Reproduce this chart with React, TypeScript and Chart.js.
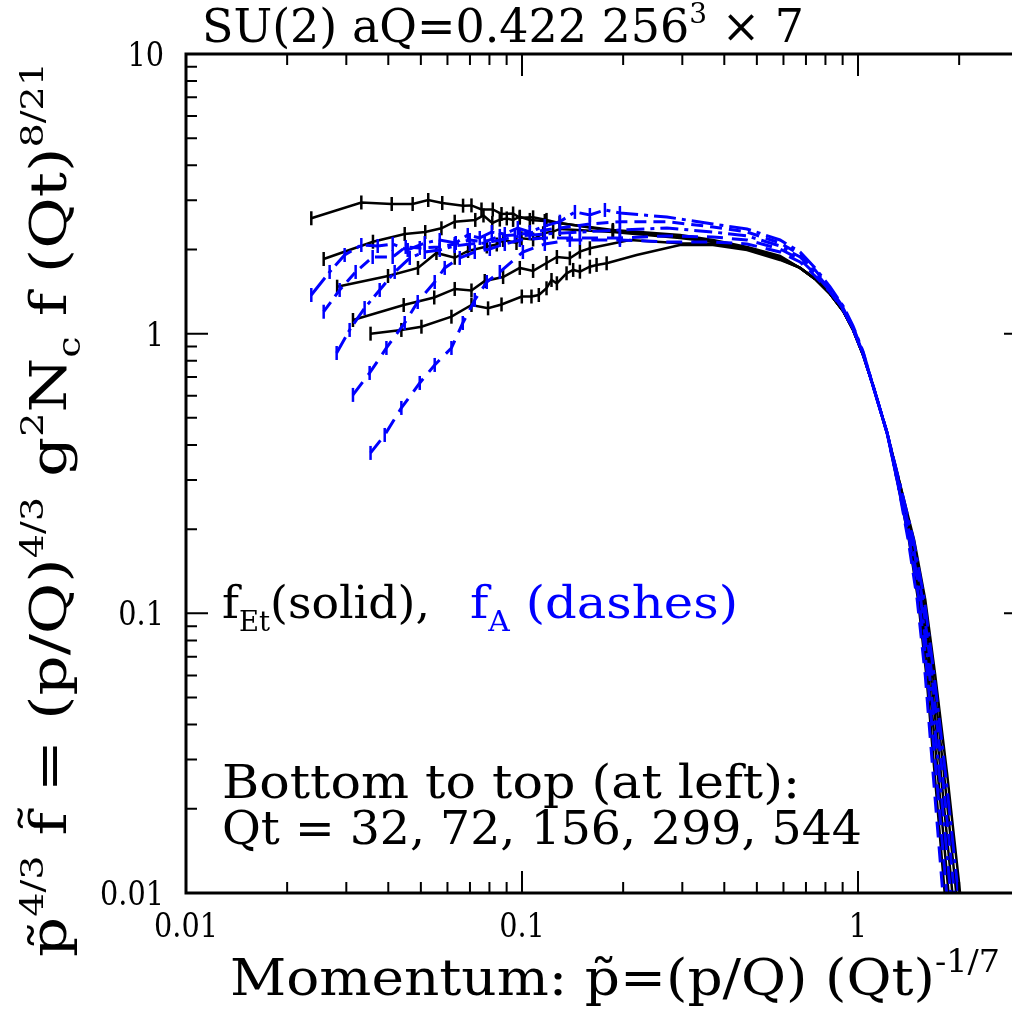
import React, { useEffect, useRef } from "react";
import { Chart, registerables } from "chart.js";
Chart.register(...registerables);

// ---------- data ----------
// f_A (blue, dashed) series, Qt = 544, 299, 156, 72, 32
const xA544 = [0.0236, 0.02676, 0.02966, 0.03325, 0.0372, 0.04122, 0.04569, 0.05135, 0.0569, 0.0635, 0.06896, 0.07487, 0.08128, 0.08887, 0.09716, 0.1055, 0.1169, 0.1296, 0.1437, 0.1592, 0.1765, 0.1956, 0.27, 0.37, 0.4674, 0.586, 0.6723, 0.7451, 0.8259, 0.9029, 0.967, 1.0356, 1.109, 1.221, 1.335, 1.463, 1.575, 1.684, 1.823, 1.968, 2.042];
const yA544 = [1.375, 1.662, 1.911, 2.075, 2.058, 2.093, 1.992, 2.11, 2.163, 2.11, 2.254, 2.199, 2.309, 2.272, 2.387, 2.309, 2.427, 2.514, 2.724, 2.657, 2.769, 2.701, 2.613, 2.467, 2.368, 2.163, 1.959, 1.718, 1.469, 1.256, 1.065, 0.862, 0.65, 0.441, 0.288, 0.183, 0.112, 0.0602, 0.02643, 0.01114, 0.00708];

const xA299 = [0.02569, 0.02866, 0.03198, 0.03594, 0.04122, 0.04507, 0.04962, 0.0569, 0.06306, 0.06991, 0.07748, 0.08589, 0.09519, 0.1055, 0.1169, 0.1296, 0.1592, 0.1956, 0.27, 0.37, 0.4674, 0.586, 0.6723, 0.7451, 0.8259, 0.9029, 0.967, 1.0356, 1.109, 1.221, 1.326, 1.449, 1.556, 1.659, 1.784, 1.918, 1.987];
const yA299 = [1.198, 1.433, 1.662, 1.88, 1.88, 2.042, 2.025, 2.042, 2.093, 2.163, 2.128, 2.236, 2.254, 2.291, 2.349, 2.387, 2.467, 2.514, 2.514, 2.407, 2.309, 2.11, 1.919, 1.69, 1.451, 1.245, 1.056, 0.856, 0.65, 0.441, 0.288, 0.183, 0.112, 0.0602, 0.02643, 0.01114, 0.00708];

const xA156 = [0.02808, 0.03069, 0.03401, 0.03771, 0.04179, 0.04633, 0.05135, 0.0569, 0.06306, 0.06991, 0.07748, 0.08589, 0.09849, 0.1169, 0.1487, 0.1956, 0.27, 0.37, 0.4674, 0.586, 0.6723, 0.7451, 0.8259, 0.9029, 0.967, 1.0356, 1.109, 1.221, 1.326, 1.436, 1.537, 1.633, 1.747, 1.870, 1.933];
const yA156 = [0.853, 1.031, 1.235, 1.433, 1.662, 1.865, 1.959, 1.992, 2.058, 2.093, 2.11, 2.163, 2.236, 2.272, 2.309, 2.349, 2.387, 2.309, 2.236, 2.058, 1.88, 1.662, 1.433, 1.235, 1.048, 0.85, 0.65, 0.441, 0.288, 0.183, 0.112, 0.0602, 0.02643, 0.01114, 0.00708];

const xA72 = [0.0314, 0.0352, 0.03949, 0.04476, 0.04893, 0.05498, 0.05888, 0.06528, 0.07235, 0.0802, 0.08887, 0.09849, 0.1169, 0.1487, 0.1956, 0.27, 0.37, 0.4674, 0.586, 0.6723, 0.7451, 0.8259, 0.9029, 0.967, 1.0356, 1.109, 1.221, 1.316, 1.422, 1.519, 1.609, 1.710, 1.821, 1.881];
const yA72 = [0.604, 0.7236, 0.8889, 1.092, 1.298, 1.53, 1.718, 1.865, 1.959, 2.008, 2.093, 2.163, 2.199, 2.199, 2.199, 2.236, 2.217, 2.163, 2.008, 1.842, 1.635, 1.421, 1.224, 1.04, 0.845, 0.65, 0.441, 0.288, 0.183, 0.112, 0.0602, 0.02643, 0.01114, 0.00708];

const xA32 = [0.03542, 0.03903, 0.04375, 0.04962, 0.05498, 0.06166, 0.06664, 0.07235, 0.07855, 0.08589, 0.1006, 0.1169, 0.1388, 0.1956, 0.27, 0.37, 0.4674, 0.586, 0.6723, 0.7451, 0.8259, 0.9029, 0.967, 1.0356, 1.109, 1.221, 1.316, 1.410, 1.500, 1.585, 1.674, 1.775, 1.830];
const yA32 = [0.3746, 0.4343, 0.5425, 0.6664, 0.7729, 0.8889, 1.092, 1.32, 1.53, 1.662, 1.959, 2.093, 2.163, 2.163, 2.128, 2.128, 2.093, 1.959, 1.804, 1.608, 1.409, 1.215, 1.035, 0.841, 0.65, 0.441, 0.288, 0.183, 0.112, 0.0602, 0.02643, 0.01114, 0.00708];

// f_Et (black, solid) series
const xS544 = [0.0236, 0.03325, 0.04095, 0.04727, 0.05259, 0.05789, 0.06677, 0.07073, 0.07576, 0.08185, 0.0869, 0.09408, 0.09849, 0.1079, 0.1183, 0.1296, 0.1864, 0.2952, 0.37, 0.4674, 0.586, 0.6723, 0.7451, 0.8259, 0.9029, 0.967, 1.0356, 1.109, 1.221, 1.335, 1.469, 1.585, 1.697, 1.843, 1.994, 2.071];
const yS544 = [2.586, 2.945, 2.909, 2.909, 3.006, 2.933, 2.869, 2.875, 2.78, 2.78, 2.679, 2.69, 2.598, 2.606, 2.551, 2.482, 2.349, 2.254, 2.163, 2.042, 1.896, 1.718, 1.569, 1.387, 1.206, 1.031, 0.839, 0.65, 0.441, 0.288, 0.183, 0.112, 0.0602, 0.02643, 0.01114, 0.00708];

const xS299 = [0.02569, 0.03601, 0.04476, 0.05152, 0.05757, 0.06306, 0.0726, 0.0768, 0.08157, 0.08589, 0.09009, 0.09408, 0.09849, 0.1055, 0.1169, 0.1296, 0.1864, 0.2952, 0.37, 0.4674, 0.586, 0.6723, 0.7451, 0.8259, 0.9029, 0.967, 1.0356, 1.109, 1.221, 1.335, 1.456, 1.565, 1.672, 1.804, 1.943, 2.015];
const yS299 = [1.849, 2.132, 2.272, 2.309, 2.381, 2.514, 2.551, 2.646, 2.488, 2.557, 2.582, 2.551, 2.619, 2.551, 2.528, 2.488, 2.329, 2.217, 2.145, 2.03, 1.88, 1.718, 1.569, 1.387, 1.206, 1.031, 0.839, 0.65, 0.441, 0.288, 0.183, 0.112, 0.0602, 0.02643, 0.01114, 0.00708];

const xS156 = [0.02817, 0.03992, 0.04903, 0.05563, 0.06306, 0.0691, 0.07855, 0.08413, 0.08785, 0.09629, 0.09966, 0.1079, 0.1156, 0.1238, 0.1296, 0.1864, 0.2952, 0.37, 0.4674, 0.586, 0.6723, 0.7451, 0.8259, 0.9029, 0.967, 1.0356, 1.109, 1.221, 1.326, 1.442, 1.546, 1.647, 1.766, 1.893, 1.960];
const yS156 = [1.472, 1.608, 1.718, 1.943, 1.868, 1.976, 2.05, 2.084, 2.163, 2.11, 2.193, 2.172, 2.286, 2.316, 2.368, 2.309, 2.199, 2.128, 2.025, 1.865, 1.718, 1.569, 1.387, 1.206, 1.031, 0.839, 0.65, 0.441, 0.288, 0.183, 0.112, 0.0602, 0.02643, 0.01114, 0.00708];

const xS72 = [0.0314, 0.04445, 0.0548, 0.06306, 0.07073, 0.07748, 0.08785, 0.09849, 0.1079, 0.1183, 0.127, 0.1388, 0.1487, 0.1592, 0.2095, 0.2952, 0.37, 0.4674, 0.586, 0.6723, 0.7451, 0.8259, 0.9029, 0.967, 1.0356, 1.109, 1.221, 1.316, 1.429, 1.528, 1.621, 1.729, 1.845, 1.907];
const yS72 = [1.119, 1.266, 1.347, 1.445, 1.427, 1.543, 1.594, 1.718, 1.676, 1.79, 1.88, 1.86, 1.964, 2.02, 2.163, 2.104, 2.093, 2.008, 1.849, 1.718, 1.569, 1.387, 1.206, 1.031, 0.839, 0.65, 0.441, 0.288, 0.183, 0.112, 0.0602, 0.02643, 0.01114, 0.00708];

const xS32 = [0.03542, 0.04375, 0.0502, 0.06166, 0.07073, 0.07925, 0.0869, 0.09986, 0.1067, 0.1122, 0.1183, 0.1224, 0.127, 0.1357, 0.142, 0.1487, 0.1592, 0.1667, 0.1786, 0.2194, 0.2952, 0.37, 0.4674, 0.586, 0.6723, 0.7451, 0.8259, 0.9029, 0.967, 1.0356, 1.109, 1.221, 1.316, 1.417, 1.509, 1.597, 1.692, 1.798, 1.855];
const yS32 = [1.0, 1.031, 1.059, 1.15, 1.266, 1.232, 1.272, 1.358, 1.358, 1.375, 1.453, 1.556, 1.514, 1.644, 1.69, 1.666, 1.736, 1.761, 1.785, 1.911, 2.075, 2.075, 1.992, 1.835, 1.718, 1.569, 1.387, 1.206, 1.031, 0.839, 0.65, 0.441, 0.288, 0.183, 0.112, 0.0602, 0.02643, 0.01114, 0.00708];

// axis ticks
const xTickValues = [0.01, 0.1, 1];
const xTickLabels = ["0.01", "0.1", "1"];
const yTickValues = [0.01, 0.1, 1, 10];
const yTickLabels = ["0.01", "0.1", "1", "10"];
const X_MIN = 0.01;
const X_MAX = 3.162;
const Y_MIN = 0.01;
const Y_MAX = 10;

const BLACK = "#000000";
const BLUE = "#0000ff";
const FONT = '"DejaVu Serif", "Liberation Serif", serif';

type Seg = { t: string; s?: number; dy?: number; c?: string };

function drawRich(
  ctx: CanvasRenderingContext2D,
  segs: Seg[],
  x: number,
  y: number,
  size: number,
  targetW: number | null,
  color = BLACK,
  align: "left" | "center" | "right" = "left",
  fixedSx?: number
) {
  let w = 0;
  const widths: number[] = [];
  for (const sg of segs) {
    ctx.font = `${Math.round(size * (sg.s ?? 1))}px ${FONT}`;
    const m = ctx.measureText(sg.t).width;
    widths.push(m);
    w += m;
  }
  const sx = fixedSx ?? (targetW ? targetW / w : 1);
  ctx.save();
  ctx.translate(x, y);
  ctx.scale(sx, 1);
  ctx.textAlign = "left";
  ctx.textBaseline = "alphabetic";
  let cx = align === "left" ? 0 : align === "center" ? -w / 2 : -w;
  segs.forEach((sg, i) => {
    ctx.font = `${Math.round(size * (sg.s ?? 1))}px ${FONT}`;
    ctx.fillStyle = sg.c ?? color;
    ctx.fillText(sg.t, cx, (sg.dy ?? 0) * size);
    cx += widths[i];
  });
  ctx.restore();
}

const framePlugin = {
  id: "frameAndText",
  beforeDraw(chart: any) {
    const ctx = chart.ctx as CanvasRenderingContext2D;
    ctx.save();
    ctx.fillStyle = "#ffffff";
    ctx.fillRect(0, 0, chart.width, chart.height);
    ctx.restore();
  },
  afterDraw(chart: any) {
    const ctx = chart.ctx as CanvasRenderingContext2D;
    const a = chart.chartArea;
    const xs = chart.scales.x;
    const ys = chart.scales.y;
    ctx.save();
    ctx.strokeStyle = BLACK;
    ctx.lineWidth = 3;
    ctx.strokeRect(a.left, a.top, a.right - a.left, a.bottom - a.top);

    ctx.lineWidth = 2;
    const MAJ = 22;
    const MIN = 11;
    for (let d = 0.01; d < X_MAX; d *= 10) {
      for (let k = 1; k <= 9; k++) {
        const v = d * k;
        if (v < X_MIN * 0.999 || v > X_MAX) continue;
        const px = xs.getPixelForValue(v);
        const len = k === 1 ? MAJ : MIN;
        ctx.beginPath();
        ctx.moveTo(px, a.bottom);
        ctx.lineTo(px, a.bottom - len);
        ctx.moveTo(px, a.top);
        ctx.lineTo(px, a.top + len);
        ctx.stroke();
      }
    }
    for (let d = 0.01; d < Y_MAX * 1.01; d *= 10) {
      for (let k = 1; k <= 9; k++) {
        const v = d * k;
        if (v > Y_MAX * 1.001) continue;
        const py = ys.getPixelForValue(v);
        const len = k === 1 ? MAJ : MIN;
        ctx.beginPath();
        ctx.moveTo(a.left, py);
        ctx.lineTo(a.left + len, py);
        ctx.moveTo(a.right, py);
        ctx.lineTo(a.right - len, py);
        ctx.stroke();
      }
    }

    // tick labels
    ctx.font = `34px ${FONT}`;
    const tsx = 64 / ctx.measureText("0.01").width;
    xTickValues.forEach((v, i) => {
      drawRich(ctx, [{ t: xTickLabels[i] }], xs.getPixelForValue(v), 937, 34, null, BLACK, "center", tsx);
    });
    yTickValues.forEach((v, i) => {
      drawRich(ctx, [{ t: yTickLabels[i] }], 164, ys.getPixelForValue(v) + 12, 34, null, BLACK, "right", tsx);
    });

    // title
    drawRich(
      ctx,
      [{ t: "SU(2) aQ=0.422 256" }, { t: "3", s: 0.6, dy: -0.42 }, { t: " \u00d7 7" }],
      202, 42, 46, 602
    );

    // legend text
    drawRich(ctx, [{ t: "f" }, { t: "Et", s: 0.6, dy: 0.28 }, { t: "(solid)," }], 222, 618, 45, 208);
    drawRich(ctx, [{ t: "f" }, { t: "A", s: 0.6, dy: 0.28 }, { t: " (dashes)" }], 470, 618, 45, 268, BLUE);

    drawRich(ctx, [{ t: "Bottom to top (at left):" }], 222, 798, 46, 578);
    drawRich(ctx, [{ t: "Qt = 32, 72, 156, 299, 544" }], 222, 844, 46, 640);

    // x axis title
    drawRich(
      ctx,
      [{ t: "Momentum: p\u0303=(p/Q) (Qt)" }, { t: "-1/7", s: 0.6, dy: -0.45 }],
      230, 995, 51, 770
    );

    // y axis title (rotated)
    ctx.save();
    ctx.translate(66, 957);
    ctx.rotate(-Math.PI / 2);
    drawRich(
      ctx,
      [
        { t: "p\u0303" },
        { t: "4/3", s: 0.6, dy: -0.45 },
        { t: " f\u0303 = (p/Q)" },
        { t: "4/3", s: 0.6, dy: -0.45 },
        { t: " g" },
        { t: "2", s: 0.6, dy: -0.45 },
        { t: "N" },
        { t: "c", s: 0.6, dy: 0.28 },
        { t: " f (Qt)" },
        { t: "8/21", s: 0.6, dy: -0.45 },
      ],
      0, 0, 51, 895
    );
    ctx.restore();
    ctx.restore();
  },
};

function pts(xs: number[], ys: number[]) {
  return xs.map((x, i) => ({ x, y: ys[i] }));
}

export default function App() {
  const ref = useRef<HTMLCanvasElement>(null);
  useEffect(() => {
    const canvas = ref.current!;
    const tickRadius = (c: any) => {
      const r = c.raw as any;
      return r && r.x < 0.2 ? 7 : 0;
    };
    const mk = (label: string, data: any[], color: string, dash: number[], width: number) => ({
      label,
      data,
      borderColor: color,
      backgroundColor: color,
      borderWidth: width,
      borderDash: dash,
      pointStyle: "line" as const,
      rotation: 90,
      pointRadius: tickRadius,
      pointBorderColor: color,
      pointBorderWidth: 2.5,
      fill: false,
      tension: 0,
    });
    const datasets = [
      mk("fA Qt=544", pts(xA544, yA544), BLUE, [22, 6, 4, 6], 3),
      mk("fA Qt=299", pts(xA299, yA299), BLUE, [12, 7], 3),
      mk("fA Qt=156", pts(xA156, yA156), BLUE, [18, 6, 4, 6], 3),
      mk("fA Qt=72", pts(xA72, yA72), BLUE, [16, 9], 3),
      mk("fA Qt=32", pts(xA32, yA32), BLUE, [16, 9], 3),
      mk("fEt Qt=544", pts(xS544, yS544), BLACK, [], 2.5),
      mk("fEt Qt=299", pts(xS299, yS299), BLACK, [], 2.5),
      mk("fEt Qt=156", pts(xS156, yS156), BLACK, [], 2.5),
      mk("fEt Qt=72", pts(xS72, yS72), BLACK, [], 2.5),
      mk("fEt Qt=32", pts(xS32, yS32), BLACK, [], 2.5),
    ];
    const chart = new Chart(canvas, {
      type: "line",
      data: { datasets },
      options: {
        responsive: false,
        animation: false,
        devicePixelRatio: 1,
        events: [],
        layout: { padding: { left: 186, right: 14, top: 54, bottom: 121 } },
        plugins: { legend: { display: false }, tooltip: { enabled: false } },
        scales: {
          x: { type: "logarithmic", min: X_MIN, max: X_MAX, display: false },
          y: { type: "logarithmic", min: Y_MIN, max: Y_MAX, display: false },
        },
      },
      plugins: [framePlugin],
    } as any);
    return () => chart.destroy();
  }, []);
  return (
    <div
      style={{
        position: "fixed",
        left: 0,
        top: 0,
        width: 1012,
        height: 1014,
        overflow: "hidden",
        background: "#ffffff",
      }}
    >
      <canvas ref={ref} width={1040} height={1014} style={{ display: "block" }} />
    </div>
  );
}
